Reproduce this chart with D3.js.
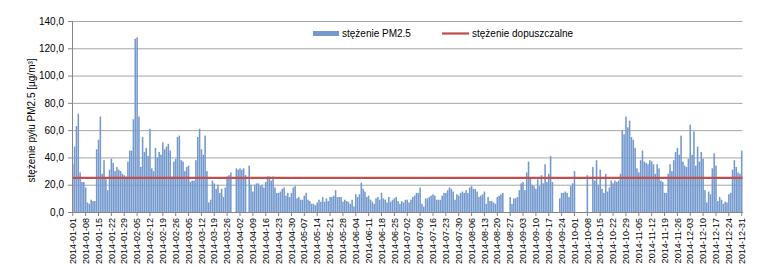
<!DOCTYPE html>
<html>
<head>
<meta charset="utf-8">
<script src="https://cdn.jsdelivr.net/npm/d3@7/dist/d3.min.js"></script>
<style>
  body { margin: 0; background: #fff; }
  svg text { font-family: "Liberation Sans", Arial, sans-serif; fill: #000; }
</style>
</head>
<body>
<svg id="chart" width="773" height="266"></svg>
<script>
// daily PM2.5 values for 2014 (null = no measurement)
const firstDay = new Date(2014, 0, 1);
const lastDay = new Date(2015, 0, 1);
const pm25 = [
  35, 48, 63, 72, 29, 22, 22,
  18, 7, 6, 9, 8, 8, 46,
  53, 70, 28, 38, 24, 16, 31,
  39, 36, 30, 33, 31, 30, 28,
  27, 26, 37, 45, 45, 68, 127,
  128, 70, 33, 55, 44, 47, 41,
  61, 32, 30, 47, 40, 44, 42,
  51, 46, 48, 50, 45, 26, 37,
  39, 55, 56, 38, 37, 30, 33,
  34, 22, 23, 23, 38, 55, 61,
  46, 42, 56, 30, 7, 9, 23,
  21, 17, 20, 14, 17, 11, 18,
  26, 27, 29, null, null, 32, 31,
  32, 31, 32, 27, null, 34, 20,
  15, 20, 21, 21, 19, 20, 18,
  22, 26, 26, 23, 26, 18, 14,
  14, 15, 17, 18, 12, 14, 11,
  14, 18, 19, 10, 11, 9, 9,
  12, 14, 9, 8, 6, 6, 5,
  7, 9, 7.5, 11, 7.5, 10, 8,
  11, 11, 12, 16, 11, 11, 11,
  7.5, 9, 8, 7.5, 6, 9, 4,
  13, 11, 13, 21.5, 17, 15, 11,
  12, 9, 7.5, 6, 10, 11, 9,
  14, 10, 9, 7, 11, 7.5, 9,
  10, 11, 8, 6, 8, 7, 9,
  9, 7, 9, 11, 12, 14, 14,
  18, 6, 4, 10, 10, 11, 12,
  13, 12, 9, 9, 9, 12, 14,
  14, 16, 18, 17, 15, 9, 13,
  12, 14, 15, 14, 16, 14, 18,
  19, 17, 17, 15, 11, 12, 13,
  15, 6, 11, 8, 8, 7, 6,
  11, 12, 13, 14, null, null, null,
  11, 6, 10, 10, 11, 16, 21,
  22, 16, 29, 37, 25, 20, 19,
  17, 24, 19, 27, 21, 35, 22,
  28, 41, 22, null, null, null, 10,
  14, 14, 15, 14, 11, 19, 21,
  30, null, null, null, null, null, null,
  27, null, null, 33, 23, 38, 20,
  31, 17, 14, 28, 15, 18, 23,
  21, 23, 22, 23, 28, 60, 57,
  70, 62, 67, 55, 53, 47, 32,
  29, 38, 45, 37, 36, 35, 38,
  37, 35, 28, 35, 32, 23, 22,
  14, 14, 28, 35, 30, 38, 44,
  47, 42, 56, 37, 34, 33, 39,
  64, 42, 59, 34, 48, 37, 44,
  39, 16, 7, 15, 13, 32, 43,
  34, 8, 11, 9, 6, 7.5, 7,
  13, 14, 31, 38, 33, 29, 28,
  45
];
const limitValue = 25;
const yTicks = [0, 20, 40, 60, 80, 100, 120, 140];
const tickEvery = 7;
const seriesNames = ["stężenie PM2.5", "stężenie dopuszczalne"];
const yTitle = "stężenie pyłu PM2.5 [µg/m³]";

const fmt = d3.timeFormat("%Y-%m-%d");
const days = d3.timeDay.range(firstDay, lastDay).map(fmt);
const rows = days.map((d, i) => ({ day: d, value: pm25[i] }));
const tickDays = days.filter((d, i) => i % tickEvery === 0);

const svg = d3.select("#chart");
const plot = { left: 72, right: 742.5, top: 21, bottom: 212 };
const barColor = "#7499cf";

let x = d3.scaleBand()
  .domain(days)
  .range([plot.left, plot.right])
  .paddingInner(0.15);

let y = d3.scaleLinear()
  .domain([0, 140])
  .range([plot.bottom, plot.top]);

// gridlines
svg.append("g")
  .attr("class", "grid")
  .attr("transform", `translate(${plot.left},0)`)
  .call(d3.axisLeft(y).tickValues(yTicks.slice(1)).tickSize(-(plot.right - plot.left)).tickFormat(""))
  .call(g => g.select(".domain").remove())
  .selectAll("line")
    .attr("stroke", "#a6a6a6")
    .attr("stroke-width", 1);

// bars
svg.append("g")
  .selectAll("rect")
  .data(rows.filter(r => r.value != null))
  .enter().append("rect")
    .attr("x", d => x(d.day))
    .attr("y", d => y(d.value))
    .attr("width", x.bandwidth())
    .attr("height", d => y(0) - y(d.value))
    .attr("fill", barColor);

// limit line
svg.append("line")
  .attr("x1", plot.left)
  .attr("x2", plot.right)
  .attr("y1", y(limitValue))
  .attr("y2", y(limitValue))
  .attr("stroke", "#c0504d")
  .attr("stroke-width", 2.25);

// y axis
let yAxis = svg.append("g")
  .attr("transform", `translate(${plot.left},0)`)
  .call(d3.axisLeft(y)
    .tickValues(yTicks)
    .tickSize(4)
    .tickFormat(d => d3.format(".1f")(d).replace(".", ",")));
yAxis.select(".domain").attr("stroke", "#868686");
yAxis.selectAll(".tick line").attr("stroke", "#868686");
yAxis.selectAll("text").attr("font-size", 10).attr("x", -8);

// x axis
let xAxis = svg.append("g")
  .attr("transform", `translate(0,${plot.bottom})`)
  .call(d3.axisBottom(x).tickValues(tickDays).tickSize(4).tickSizeOuter(0));
xAxis.select(".domain").attr("stroke", "#868686");
xAxis.selectAll(".tick line").attr("stroke", "#868686");
xAxis.selectAll("text")
  .attr("font-size", 9)
  .attr("transform", "rotate(-90)")
  .attr("text-anchor", "end")
  .attr("x", -6)
  .attr("y", 0)
  .attr("dy", "0.35em");

// y title
svg.append("text")
  .attr("transform", `translate(35,${(plot.top + plot.bottom) / 2 + 4}) rotate(-90)`)
  .attr("text-anchor", "middle")
  .attr("font-size", 10)
  .text(yTitle);

// legend
let legend = svg.append("g");
legend.append("rect")
  .attr("x", 313).attr("y", 31)
  .attr("width", 26).attr("height", 5)
  .attr("fill", barColor);
legend.append("text")
  .attr("x", 342).attr("y", 37)
  .attr("font-size", 10)
  .text(seriesNames[0]);
legend.append("line")
  .attr("x1", 442).attr("x2", 469)
  .attr("y1", 33.5).attr("y2", 33.5)
  .attr("stroke", "#c0504d")
  .attr("stroke-width", 2.25);
legend.append("text")
  .attr("x", 472).attr("y", 37)
  .attr("font-size", 10)
  .text(seriesNames[1]);
</script>
</body>
</html>
